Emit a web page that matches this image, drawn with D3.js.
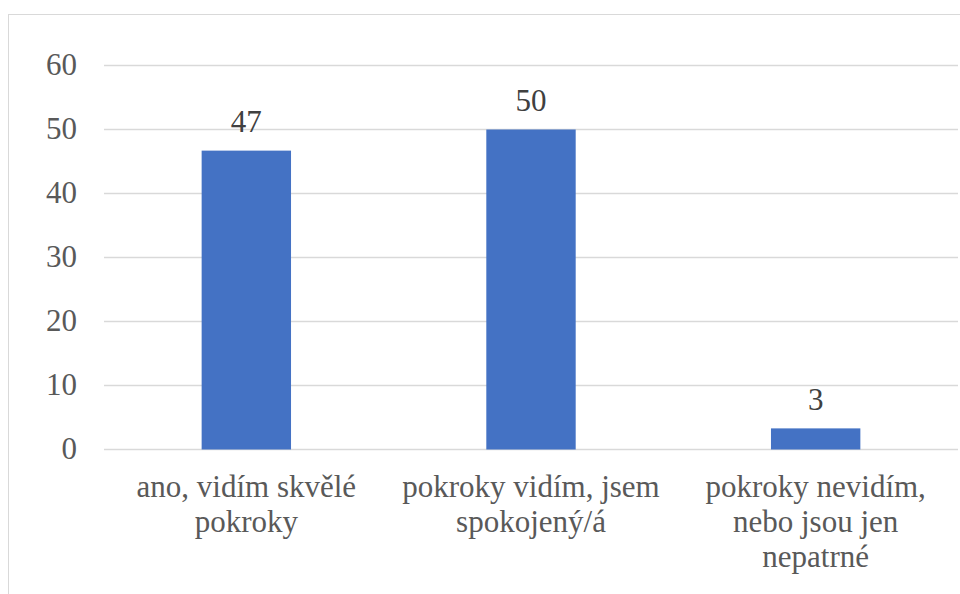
<!DOCTYPE html>
<html>
<head>
<meta charset="utf-8">
<script src="https://cdn.jsdelivr.net/npm/d3@7"></script>
</head>
<body style="margin:0">
<div id="chart"></div>
<script>
// data
var categories = ["ano, vidím skvělé pokroky", "pokroky vidím, jsem spokojený/á", "pokroky nevidím, nebo jsou jen nepatrné"];
var categoryLines = [
  ["ano, vidím skvělé", "pokroky"],
  ["pokroky vidím, jsem", "spokojený/á"],
  ["pokroky nevidím,", "nebo jsou jen", "nepatrné"]
];
var values = [46.7, 50, 3.3];
var valueLabels = ["47", "50", "3"];
var yTicks = [0, 10, 20, 30, 40, 50, 60];

var width = 960, height = 594;
var margin = { top: 65.5, right: 2, bottom: 144.5, left: 104 };

var svg = d3.select("#chart")
  .append("svg")
  .attr("width", width)
  .attr("height", height);

// chart border
svg.append("rect")
  .attr("x", 8.5)
  .attr("y", 14.5)
  .attr("width", width)
  .attr("height", height)
  .attr("fill", "none")
  .attr("stroke", "#d9d9d9")
  .attr("stroke-width", 1);

var x = d3.scaleBand()
  .domain(categories)
  .range([margin.left, width - margin.right])
  .paddingInner(0.686)
  .paddingOuter(0.343);

var y = d3.scaleLinear()
  .domain([0, 60])
  .range([height - margin.bottom, margin.top]);

// gridlines
svg.append("g")
  .selectAll("line")
  .data(yTicks)
  .enter().append("line")
  .attr("x1", margin.left)
  .attr("x2", width - margin.right)
  .attr("y1", function(d) { return y(d); })
  .attr("y2", function(d) { return y(d); })
  .attr("stroke", "#d9d9d9")
  .attr("stroke-width", 1.5);

// y axis labels, drawn as plain text from the scale
svg.selectAll(".ytick")
  .data(y.ticks(6))
  .enter().append("text")
  .attr("class", "ytick")
  .attr("x", margin.left - 27)
  .attr("y", function(d) { return y(d); })
  .attr("dy", "0.32em")
  .attr("text-anchor", "end")
  .attr("fill", "#595959")
  .style("font-size", "31px")
  .style("font-family", "Times New Roman")
  .text(function(d) { return d; });

// bars
svg.append("g")
  .selectAll("rect")
  .data(values)
  .enter().append("rect")
  .attr("x", function(d, i) { return x(categories[i]); })
  .attr("width", x.bandwidth())
  .attr("y", function(d) { return y(d); })
  .attr("height", function(d) { return y(0) - y(d); })
  .attr("fill", "#4472c4");

// data labels
svg.selectAll(".vlabel")
  .data(values)
  .enter().append("text")
  .attr("class", "vlabel")
  .attr("x", function(d, i) { return x(categories[i]) + x.bandwidth() / 2; })
  .attr("y", function(d) { return y(d) - 18.5; })
  .attr("text-anchor", "middle")
  .attr("fill", "#404040")
  .style("font-size", "31px")
  .style("font-family", "Tinos")
  .text(function(d, i) { return valueLabels[i]; });

// category labels, one text per line
categoryLines.forEach(function(lines, i) {
  svg.selectAll(".cat" + i)
    .data(lines)
    .enter().append("text")
    .attr("class", "cat" + i)
    .attr("x", x(categories[i]) + x.bandwidth() / 2)
    .attr("y", function(d, j) { return y(0) + 47 + j * 35; })
    .attr("text-anchor", "middle")
    .attr("fill", "#595959")
    .style("font-size", "31px")
    .style("font-family", "Liberation Serif")
    .text(function(d) { return d; });
});
</script>
</body>
</html>
